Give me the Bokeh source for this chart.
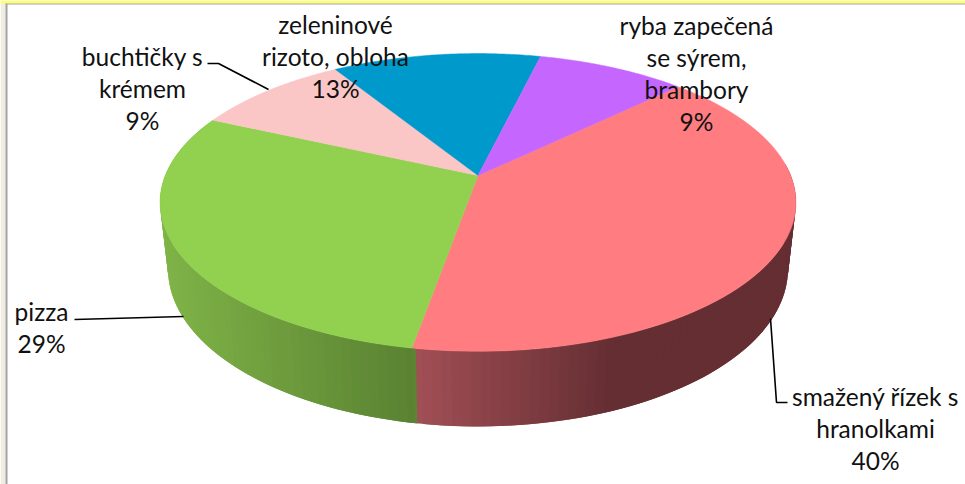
import numpy as np
from bokeh.plotting import figure
from bokeh.embed import file_html
from bokeh.resources import INLINE
from bokeh.core.properties import value

# ---- data ----
names = ["smažený řízek s hranolkami", "pizza", "buchtičky s krémem",
         "zeleninové rizoto, obloha", "ryba zapečená se sýrem, brambory"]
values = [40, 29, 9.4, 12.6, 9]
label_lines = [["smažený řízek s", "hranolkami", "40%"],
               ["pizza", "29%"],
               ["buchtičky s", "krémem", "9%"],
               ["zeleninové", "rizoto, obloha", "13%"],
               ["ryba zapečená", "se sýrem,", "brambory", "9%"]]
colors = ["#FF7C80", "#92D050", "#FBC6C6", "#0099CC", "#C566FF"]

# ---- layout ----
W, H = 965, 484
FIRST_ANGLE = 44.0            # where the first slice starts, clockwise from there
CX, CY = 477.5, 175.0         # screen position of the pie's apex
K, A, F = 0.181, 144.0, 312.7 # perspective of the tilted plane
BASE_S, BASE_DROP = 0.975, 66.8

def top(a):
    t = np.radians(a); u, v = np.cos(t), np.sin(t); d = 1 + K * v
    return CX + F * u / d, CY - A * v / d

def base(a):
    t = np.radians(a); u, v = np.cos(t), np.sin(t); d = 1 + K * v
    return CX + BASE_S * F * u / d, CY - BASE_S * (A * v - BASE_DROP) / d

def lerp_hex(c0, c1, t):
    t = min(max(t, 0.0), 1.0)
    return "#%02x%02x%02x" % tuple(int(round(a + (b - a) * t)) for a, b in zip(c0, c1))

p = figure(width=W, height=H, x_range=(0, W), y_range=(H, 0), output_backend="svg",
           toolbar_location=None, min_border=0, outline_line_color=None,
           background_fill_color="white", border_fill_color="white",
           styles={"position": "absolute", "left": "0px", "top": "0px"})
p.xaxis.visible = False
p.yaxis.visible = False
p.grid.visible = False

# frame of the slide around the chart
p.quad(left=[0], right=[5], top=[0], bottom=[H], fill_color="#F1EDE2", line_color=None)
p.quad(left=[5], right=[7], top=[3], bottom=[H], fill_color="#A3A3A3", line_color=None)
p.quad(left=[0], right=[W], top=[0], bottom=[3], fill_color="#FFFF66", line_color=None)
p.quad(left=[5], right=[W], top=[3], bottom=[4], fill_color="#A3A3A3", line_color=None)

# slice angles from the values (clockwise)
bounds = FIRST_ANGLE - np.cumsum([0] + values) * 3.6

def wall(a_from, a_to, col0, col1, x0, x1):
    # strips overlap the next angle, so no seams show between them
    step = -1.5 if a_to < a_from else 1.5
    aa = np.append(np.arange(a_from, a_to, step), a_to)
    xs, ys, cs = [], [], []
    for a, b in zip(aa[:-1], aa[1:]):
        c = b + step if abs(b - a_to) > 1e-6 else b
        tx0, ty0 = top(a); tx1, ty1 = top(c)
        bx0, by0 = base(a); bx1, by1 = base(c)
        xs.append([tx0, tx1, bx1, bx0]); ys.append([ty0, ty1, by1, by0])
        mid = (base(a)[0] + base(b)[0]) / 2
        cs.append(lerp_hex(col0, col1, (mid - x0) / (x1 - x0)))
    p.patches(xs, ys, fill_color=cs, line_color=None)

# side walls that face the viewer
wall(bounds[1], bounds[1] + 104, (162, 80, 86), (100, 46, 50), 412, 610)   # first slice
wall(bounds[2], bounds[1], (128, 180, 72), (90, 130, 50), 165, 412)        # second slice

# top faces
for i, col in enumerate(colors):
    aa = np.linspace(bounds[i], bounds[i + 1], 80)
    xr, yr = top(aa)
    p.patch(np.r_[CX, xr], np.r_[CY, yr], fill_color=col, line_color=col, line_width=0.5)

# leader lines
p.line([207, 218, 268], [63, 63, 89], line_color="black", line_width=1.6)
p.line([74, 183], [319, 316], line_color="black", line_width=1.6)
p.line([770, 776, 787], [318, 402, 402], line_color="black", line_width=1.6)

# labels
anchors = [(875, 396), (41, 311), (142, 56), (335, 24), (696, 25)]
tx, ty, tt = [], [], []
for (ax, ay), lines in zip(anchors, label_lines):
    for j, line in enumerate(lines):
        tx.append(ax); ty.append(ay + j * 32); tt.append(line)
p.text(tx, ty, text=tt, text_font=value("Lato"), text_font_size="24.5px",
       text_color="#111111", text_align="center", text_baseline="middle")

open("out.html", "w").write(file_html(p, INLINE))
